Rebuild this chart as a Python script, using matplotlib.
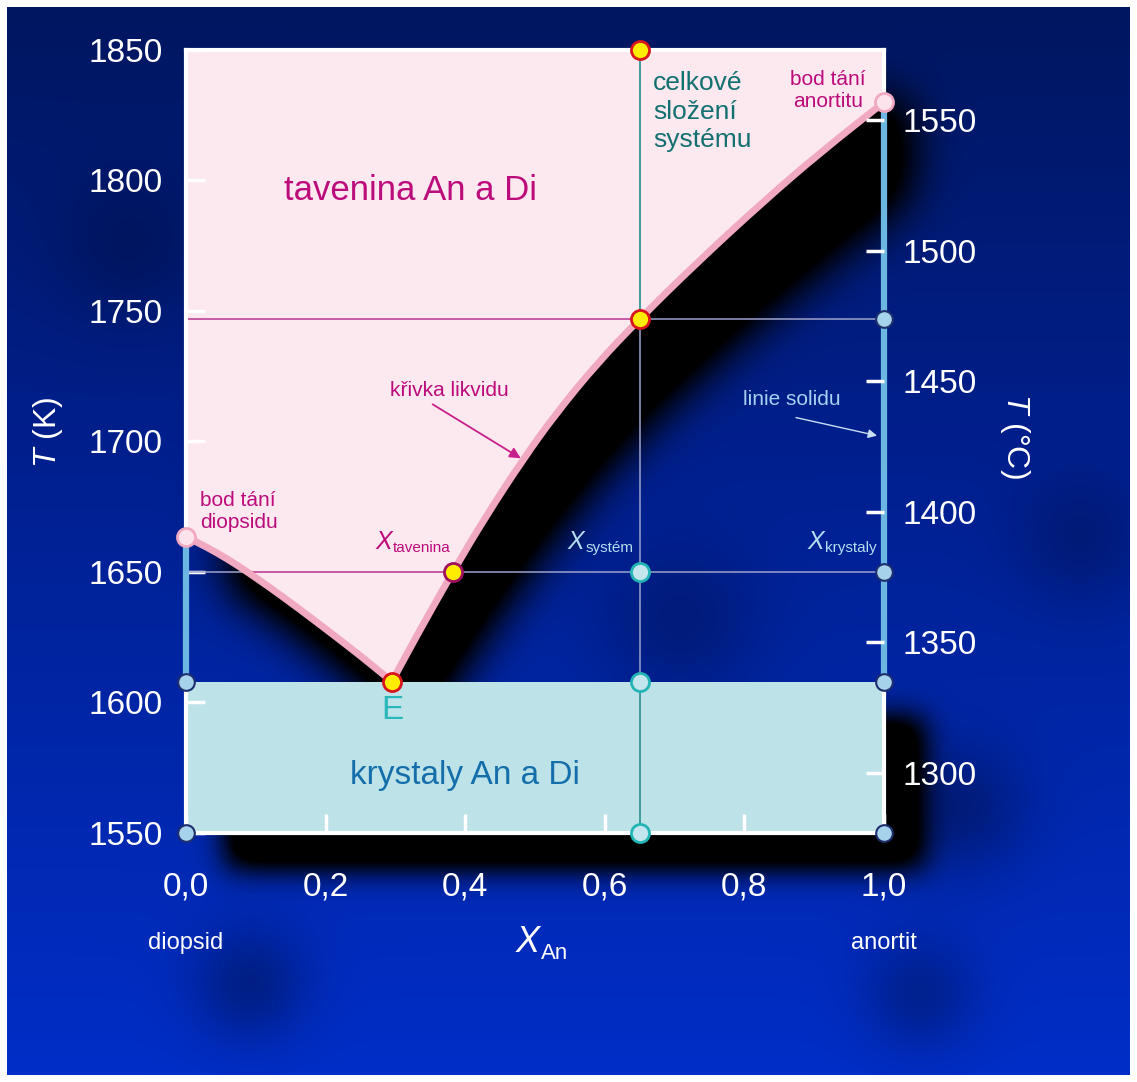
import numpy as np
import matplotlib
matplotlib.use('Agg')
from matplotlib import pyplot as plt
from matplotlib.path import Path
from matplotlib.patches import Polygon, Rectangle, PathPatch

plt.rcParams['font.family'] = 'Liberation Sans'
plt.rcParams['mathtext.fontset'] = 'custom'
plt.rcParams['mathtext.rm'] = 'Liberation Sans'
plt.rcParams['mathtext.it'] = 'Liberation Sans:italic'

# liquidus, diopside side (X_An, T in K)
liq_di_x = [0.0, 0.03, 0.06, 0.087, 0.12, 0.16, 0.2, 0.25, 0.295]
liq_di_T = [1663.5, 1659.5, 1654.9, 1650.2, 1644.1, 1636.3, 1628.2, 1617.9, 1608]
# liquidus, anorthite side
liq_an_x = [0.295, 0.33, 0.382, 0.43, 0.483, 0.53, 0.59, 0.65, 0.73, 0.827, 0.91, 1.0]
liq_an_T = [1608, 1625.3, 1650, 1671.5, 1693.2, 1710.7, 1730.2, 1747, 1768, 1791.9, 1811, 1830]

x_eut, T_eut = 0.295, 1608
T_melt_di, T_melt_an = 1663.5, 1830
x_sys = 0.65          # celkove slozeni
x_melt = 0.382        # X_tavenina at 1650 K
T_iso = [1747, 1650]
T_bot, T_top = 1550, 1850

K_ticks = [1550, 1600, 1650, 1700, 1750, 1800, 1850]
C_ticks = [1300, 1350, 1400, 1450, 1500, 1550]
x_ticks = [0.0, 0.2, 0.4, 0.6, 0.8, 1.0]
x_labels = ['0,0', '0,2', '0,4', '0,6', '0,8', '1,0']

W, H = 1137, 1082
fig = plt.figure(figsize=(W / 100, H / 100), dpi=100)
fig.patch.set_facecolor('white')

bg = fig.add_axes([0, 0, 1, 1], zorder=-10)
bg.set_axis_off()
ax = fig.add_axes([186 / W, (H - 833) / H, 698 / W, 783 / H])
ax.set_xlim(0, 1)
ax.set_ylim(T_bot, T_top)
ax.set_facecolor('none')

# melt field polygon
melt_verts = [(0, T_top), (1, T_top)]
melt_verts += list(zip(liq_an_x[::-1], liq_an_T[::-1]))
melt_verts += list(zip(liq_di_x[::-1], liq_di_T[::-1]))[1:]
melt_verts = np.array(melt_verts)
box_verts = np.array([(0, T_bot), (1, T_bot), (1, T_eut), (0, T_eut)])

# ---- background: gradient, dark clouds, drop shadow ----
yy, xx = np.mgrid[0:H, 0:W] + 0.5
frac = yy / H   # 0 at bottom
stops = [0.0, 0.55, 1.0]
cols = np.array([[0, 46, 200], [0, 32, 145], [0, 22, 95]]) / 255.0
img = np.dstack([np.interp(frac, stops, cols[:, c]) for c in range(3)])

clouds = [(250, 985, 40, 0.3), (680, 625, 55, 0.22), (960, 810, 45, 0.3),
          (920, 995, 40, 0.25), (1080, 540, 45, 0.2), (130, 250, 55, 0.2)]
shade = np.ones((H, W))
for cx, cy, r, s in clouds:
    shade *= 1 - s * np.exp(-((xx - cx) ** 2 + (yy - (H - cy)) ** 2) / (2 * r ** 2))
img *= shade[..., None]


def blur(a, s):
    pad = int(4 * s)
    p = np.pad(a, pad)
    fy = np.fft.fftfreq(p.shape[0])[:, None]
    fx = np.fft.rfftfreq(p.shape[1])[None, :]
    g = np.exp(-2 * (np.pi * s) ** 2 * (fx ** 2 + fy ** 2))
    out = np.fft.irfft2(np.fft.rfft2(p) * g, s=p.shape)
    return out[pad:-pad, pad:-pad]


pts = np.column_stack([xx.ravel(), yy.ravel()])
x_right = ax.transData.transform((1, T_bot))[0]

# melt shadow, leaning a little further right higher up
disp = ax.transData.transform(melt_verts)
disp[:, 0] += 35 + 0.1 * (disp[:, 1] - (H - 600))
disp[:, 1] -= 50
m1 = Path(disp).contains_points(pts).reshape(H, W) & (xx < x_right + 25)
sh1 = np.clip(1.6 * blur(m1.astype(float), 24), 0, 1)

disp = ax.transData.transform(box_verts) + [40, -35]
m2 = Path(disp).contains_points(pts).reshape(H, W)
sh2 = np.clip(1.5 * blur(m2.astype(float), 15), 0, 1)

dark = np.maximum(sh1, sh2)
img *= (1 - dark)[..., None]
b = 7
img[:b, :] = 1
img[-b:, :] = 1
img[:, :b] = 1
img[:, -b:] = 1
bg.imshow(img, extent=(0, W, 0, H), origin='lower', interpolation='bilinear')
bg.set_xlim(0, W)
bg.set_ylim(0, H)

# ---- phase fields ----
melt = Polygon(melt_verts, closed=True, facecolor='#fce8ef', edgecolor='none', zorder=1)
ax.add_patch(melt)
box = Rectangle((0, T_bot), 1, T_eut - T_bot, facecolor='#bde2e8', edgecolor='none', zorder=1)
ax.add_patch(box)

# tie lines and composition line
grey = '#9da3cc'
for T in T_iso:
    ax.plot([0, 1], [T, T], color=grey, lw=1.1, zorder=2)
    ln, = ax.plot([0, 1], [T, T], color='#cc4499', lw=1.1, zorder=2.1)
    ln.set_clip_path(melt)
ax.plot([x_sys, x_sys], [T_bot, T_top], color=grey, lw=1.1, zorder=2)
for patch in (melt, box):
    ln, = ax.plot([x_sys, x_sys], [T_bot, T_top], color='#3a9a9a', lw=1.3, zorder=2.1)
    ln.set_clip_path(patch)

# spines and ticks
for side in ['left', 'right', 'top', 'bottom']:
    ax.spines[side].set_color('white')
    ax.spines[side].set_linewidth(3)
ax.set_yticks(K_ticks)
ax.set_xticks(x_ticks)
ax.set_xticklabels(x_labels)
ax.tick_params(axis='both', direction='in', length=14, width=2.5, color='white',
               labelcolor='white', labelsize=24)
ax.tick_params(axis='y', pad=17)
ax.tick_params(axis='x', pad=28)

ax2 = ax.twinx()
ax2.set_ylim(T_bot - 273.15, T_top - 273.15)
ax2.set_yticks(C_ticks)
ax2.tick_params(axis='y', direction='in', length=13, width=2.5, color='white',
                labelcolor='white', labelsize=24, pad=13)
for side in ax2.spines:
    ax2.spines[side].set_visible(False)

# solidus lines
sol = dict(color='#6bb7e2', lw=4.5, zorder=3, solid_capstyle='butt', clip_on=False)
ax.plot([0, 0], [T_eut, T_melt_di], **sol)
ax.plot([1, 1], [T_eut, T_melt_an], **sol)


# liquidus, drawn as a smoothed path (quadratic segments between midpoints)
def smooth_path(xs, Ts):
    p = np.column_stack([xs, Ts])
    mids = (p[:-1] + p[1:]) / 2
    verts = [p[0], mids[0]]
    codes = [Path.MOVETO, Path.LINETO]
    for i in range(1, len(p) - 1):
        verts += [p[i], mids[i]]
        codes += [Path.CURVE3, Path.CURVE3]
    verts.append(p[-1])
    codes.append(Path.LINETO)
    return Path(verts, codes)


for xs, Ts in [(liq_di_x, liq_di_T), (liq_an_x, liq_an_T)]:
    ax.add_patch(PathPatch(smooth_path(xs, Ts), fill=False, edgecolor='#f0a9c0', lw=5,
                           capstyle='round', joinstyle='round', zorder=3.5, clip_on=False))

# points
kw = dict(ls='none', marker='o', ms=13, mew=2, zorder=6, clip_on=False)
ax.plot([x_sys, x_sys, x_eut], [T_top, T_iso[0], T_eut], mfc='#ffec00', mec='#d8141c', **kw)
ax.plot([x_melt], [T_iso[1]], mfc='#ffec00', mec='#a0105f', **kw)
ax.plot([0, 1], [T_melt_di, T_melt_an], mfc='#fde4ec', mec='#f0a9c0', **kw)
ax.plot([x_sys] * 3, [T_iso[1], T_eut, T_bot], mfc='#c3e6ee', mec='#23b5b5', **kw)
ax.plot([0, 0, 1, 1, 1, 1], [T_eut, T_bot, T_iso[0], T_iso[1], T_eut, T_bot],
        mfc='#a6d2ec', mec='#1f2f6e', ms=12, mew=1.5, ls='none', marker='o', zorder=6, clip_on=False)


def xlabel(x, T, sub, color, size, subsize, drop):
    xt = ax.text(x, T, 'X', style='italic', color=color, fontsize=size,
                 ha='left', va='baseline', clip_on=False)
    ax.annotate(sub, xy=(1, 0), xycoords=xt, xytext=(0.5, drop), textcoords='offset points',
                color=color, fontsize=subsize, ha='left', va='baseline')


# labels inside the diagram
mag = '#bc0c7c'
ax.text(0.321, 1796, 'tavenina An a Di', color=mag, fontsize=25, ha='center', va='center')
ax.text(0.40, 1572, 'krystaly An a Di', color='#146eaa', fontsize=24, ha='center', va='center')
ax.text(0.669, 1842, 'celkové\nsložení\nsystému', color='#137070', fontsize=19,
        ha='left', va='top', linespacing=1.25)
ax.text(0.92, 1842.5, 'bod tání\nanortitu', color=mag, fontsize=15, ha='center', va='top',
        linespacing=1.2)
ax.text(0.02, 1681, 'bod tání\ndiopsidu', color=mag, fontsize=15, ha='left', va='top',
        linespacing=1.2)
ax.text(0.377, 1719.5, 'křivka likvidu', color=mag, fontsize=15, ha='center', va='center')
ax.annotate('', xy=(0.483, 1693), xytext=(0.350, 1714.8),
            arrowprops=dict(arrowstyle='-|>', color='#c8208a', lw=1.3, mutation_scale=16))
ax.text(0.868, 1716, 'linie solidu', color='#a6d2f0', fontsize=15, ha='center', va='center')
ax.annotate('', xy=(0.994, 1702), xytext=(0.870, 1709.4),
            arrowprops=dict(arrowstyle='-|>', color='#c8def4', lw=1.0, mutation_scale=13))
xlabel(0.271, 1658.8, 'tavenina', mag, 18, 11, 1.5)
xlabel(0.547, 1658.8, 'systém', '#b4dcee', 18, 11, 1.5)
xlabel(0.890, 1658.8, 'krystaly', '#b4dcee', 18, 11, 1.5)
ax.text(x_eut, 1597, 'E', color='#28b8bc', fontsize=24, ha='center', va='center')

# axis captions
ax.text(0.0, 1508, 'diopsid', color='white', fontsize=17, ha='center', va='center', clip_on=False)
ax.text(1.0, 1508, 'anortit', color='white', fontsize=17, ha='center', va='center', clip_on=False)
xlabel(0.473, 1504.4, 'An', 'white', 26, 16, 1.0)
ax.text(-0.198, 0.511, r'$T$ (K)', color='white', fontsize=23, rotation=90,
        ha='center', va='center', transform=ax.transAxes)
ax.text(1.188, 0.507, r'$T$ (°C)', color='white', fontsize=23, rotation=270,
        ha='center', va='center', transform=ax.transAxes)

fig.savefig('out.png', dpi=100)
